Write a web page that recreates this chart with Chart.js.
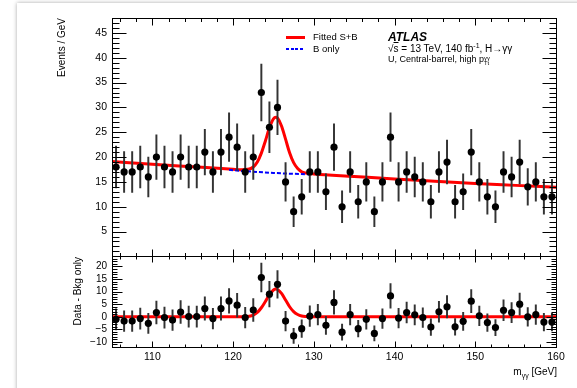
<!DOCTYPE html>
<html lang="en">
<head>
<meta charset="UTF-8" />
<title>ATLAS H→γγ, U, Central-barrel, high pTt</title>
<script src="https://cdn.jsdelivr.net/npm/chart.js"></script>
<style>
  html, body { margin: 0; padding: 0; background: #fff; }
  body { width: 577px; height: 388px; overflow: hidden; position: relative;
         font-family: 'Liberation Sans', Arial, sans-serif; color: #000; }
  .card { position: absolute; left: 17px; top: 3px; width: 640px; height: 440px;
          background: #fff; box-shadow: 0 0 4px rgba(0,0,0,0.35); }
  #wrap { position: absolute; left: 0; top: 0; width: 577px; height: 388px; }
  .t { position: absolute; white-space: nowrap; line-height: 1; }
  .rot { transform-origin: 0 0; transform: rotate(-90deg); width: 200px; text-align: right; }
  sub, sup { font-size: 70%; line-height: 0; }
  .ol { text-decoration: overline; }
  .stk { display: inline-block; vertical-align: -3px; line-height: 0.8; font-size: 65%; }
  .stk span { display: block; }
</style>
</head>
<body>
<div class="card"></div>
<div id="wrap"><canvas id="c"></canvas></div>

<!-- legend -->
<div class="t" style="left:286px;top:36px;width:19px;height:3px;background:#f00"></div>
<div class="t" style="left:313px;top:32px;font-size:9.5px">Fitted S+B</div>
<div class="t" style="left:286px;top:47.5px;width:19px;height:2px;background:repeating-linear-gradient(90deg,#00f 0 3px,transparent 3px 4.7px)"></div>
<div class="t" style="left:313px;top:43.5px;font-size:9.5px">B only</div>

<!-- ATLAS label -->
<div class="t" style="left:388px;top:30.5px;font-size:12px;font-weight:bold;font-style:italic">ATLAS</div>
<div class="t" style="left:388px;top:44.2px;font-size:10px">√<span class="ol">s</span> = 13 TeV, 140 fb<sup>-1</sup>, H→γγ</div>
<div class="t" style="left:388px;top:54.7px;font-size:9px">U, Central-barrel, high p<span class="stk"><span>γγ</span><span>Tt</span></span></div>

<!-- axis titles -->
<div class="t rot" style="left:57px;top:218px;font-size:10px">Events / GeV</div>
<div class="t rot" style="left:73px;top:457px;font-size:10px">Data - Bkg only</div>
<div class="t" style="right:20px;top:366.5px;font-size:10px">m<sub>γγ</sub> [GeV]</div>

<script>
// bin centres (1 GeV bins) and events per bin
const bins = [105.5,106.5,107.5,108.5,109.5,110.5,111.5,112.5,113.5,114.5,115.5,116.5,117.5,118.5,119.5,120.5,121.5,122.5,123.5,124.5,125.5,126.5,127.5,128.5,129.5,130.5,131.5,132.5,133.5,134.5,135.5,136.5,137.5,138.5,139.5,140.5,141.5,142.5,143.5,144.5,145.5,146.5,147.5,148.5,149.5,150.5,151.5,152.5,153.5,154.5,155.5,156.5,157.5,158.5,159.5];
const counts = [18,17,17,18,16,20,18,17,20,18,18,21,17,21,24,22,17,20,33,26,30,15,9,12,17,17,13,22,10,17,11,15,9,15,24,15,17,16,15,11,17,19,11,13,21,15,12,10,17,16,19,14,15,12,12];
const errs = [4.2,4.1,4.1,4.2,4.0,4.5,4.2,4.1,4.5,4.2,4.2,4.6,4.1,4.6,4.9,4.7,4.1,4.5,5.7,5.1,5.5,3.9,3.0,3.5,4.1,4.1,3.6,4.7,3.2,4.1,3.3,3.9,3.0,3.9,4.9,3.9,4.1,4.0,3.9,3.3,4.1,4.4,3.3,3.6,4.6,3.9,3.5,3.2,4.1,4.0,4.4,3.7,3.9,3.5,3.5];
// data minus background-only fit
const resid = [-1.0,-1.7,-1.7,-0.7,-2.6,1.7,-0.3,-1.3,1.9,0.1,0.1,3.3,-0.7,3.3,6.3,4.6,-0.3,2.7,15.6,9.0,12.9,-1.7,-7.6,-4.7,0.3,0.9,-3.4,5.7,-6.1,0.9,-4.7,-1.0,-6.6,-0.7,8.3,-0.5,1.7,0.8,-0.3,-4.1,2.0,4.0,-4.0,-1.8,6.2,0.4,-2.3,-4.3,2.6,1.7,5.0,0.0,0.9,-2.1,-2.1];

// fitted S+B curve
const sbX = [105,110,115,120,121,122,122.5,123,123.5,124,124.5,125,125.3,125.5,126,126.5,127,127.5,128,128.5,129,130,135,140,145,150,155,160];
const sbY = [19.1,18.55,18.05,17.55,17.47,17.6,18.0,19.0,20.8,23.25,25.9,27.7,28.0,27.85,26.26,23.6,20.87,18.87,17.68,17.03,16.79,16.6,16.1,15.6,15.15,14.7,14.3,13.9];
// B only curve (visible around the peak)
const bX = [119.5,121,123,125,127,129,129.5];
const bY = [17.45,17.2,17.0,16.8,16.65,16.55,16.5];
// signal part of the fit for the lower panel
const sigX = [105,121,122,122.5,123,123.5,124,124.5,125,125.3,125.5,126,126.5,127,127.5,128,128.5,129,130,160];
const sigY = [0,0.02,0.25,0.7,1.75,3.6,6.1,8.8,10.65,11.0,10.85,9.3,6.7,4.0,2.05,0.9,0.3,0.1,0,0];

const xTicks = { min: 105, max: 160, major: 10, minor: 2 };

const pts = (xs, ys) => xs.map((x, i) => ({ x, y: ys[i] }));
const bars = (ys) => bins.map((x, i) => ({ x, y: [ys[i] - errs[i], ys[i] + errs[i]] }));

// ROOT-like frame with inward ticks on all four sides
const frameTicks = {
  id: 'frameTicks',
  afterDraw(chart) {
    const { ctx, chartArea: ca, scales } = chart;
    const xs = scales.x;
    ctx.save();
    ctx.strokeStyle = '#000';
    ctx.lineWidth = 1;
    [[scales.y, 7, 3.5, 14, 7], [scales.yr, 6, 3, 10, 5]].forEach(([ys, xMaj, xMin, yMaj, yMin]) => {
      const top = Math.round(ys.top) + 0.5, bot = Math.round(ys.bottom) + 0.5;
      const l = Math.round(ca.left) + 0.5, r = Math.round(ca.right) + 0.5;
      ctx.strokeRect(l, top, r - l, bot - top);
      ctx.beginPath();
      for (let v = xTicks.min + 1; v <= xTicks.max; v += xTicks.minor) {
        const px = Math.round(xs.getPixelForValue(v)) + 0.5;
        const len = v % xTicks.major === 0 ? xMaj : xMin;
        ctx.moveTo(px, bot); ctx.lineTo(px, bot - len);
        ctx.moveTo(px, top); ctx.lineTo(px, top + len);
      }
      for (let v = Math.ceil(ys.min); v <= ys.max; v++) {
        const py = Math.round(ys.getPixelForValue(v)) + 0.5;
        const len = v % 5 === 0 ? yMaj : yMin;
        ctx.moveTo(l, py); ctx.lineTo(l + len, py);
        ctx.moveTo(r, py); ctx.lineTo(r - len, py);
      }
      ctx.stroke();
    });
    ctx.restore();
  }
};

Chart.defaults.font.family = "'Liberation Sans', Arial, sans-serif";
Chart.defaults.color = '#000';

new Chart(document.getElementById('c'), {
  type: 'bar',
  data: {
    datasets: [
      { type: 'line', data: pts(bX, bY), yAxisID: 'y', borderColor: '#0000ff', borderWidth: 2,
        borderDash: [4, 2], pointRadius: 0, order: 3 },
      { type: 'line', data: pts(sbX, sbY), yAxisID: 'y', borderColor: '#ff0000', borderWidth: 3,
        pointRadius: 0, cubicInterpolationMode: 'monotone', order: 4 },
      { type: 'bar', data: bars(counts), yAxisID: 'y', backgroundColor: '#333', barThickness: 1.3,
        grouped: false, order: 2 },
      { type: 'scatter', data: pts(bins, counts), yAxisID: 'y', backgroundColor: '#000',
        pointRadius: 3.6, borderWidth: 0, order: 1 },
      { type: 'line', data: pts(sigX, sigY), yAxisID: 'yr', borderColor: '#ff0000', borderWidth: 3,
        pointRadius: 0, cubicInterpolationMode: 'monotone', order: 4 },
      { type: 'bar', data: bars(resid), yAxisID: 'yr', backgroundColor: '#333', barThickness: 1.3,
        grouped: false, order: 2 },
      { type: 'scatter', data: pts(bins, resid), yAxisID: 'yr', backgroundColor: '#000',
        pointRadius: 3.6, borderWidth: 0, order: 1 }
    ]
  },
  options: {
    responsive: true,
    maintainAspectRatio: false,
    animation: false,
    layout: { padding: { left: 0, right: 21, top: 18, bottom: 0 } },
    plugins: { legend: { display: false }, tooltip: { enabled: false } },
    scales: {
      x: {
        type: 'linear', min: 105, max: 160, offset: false,
        grid: { display: false, drawTicks: false }, border: { display: false },
        ticks: { stepSize: 10, includeBounds: false, padding: 4, font: { size: 10.5 }, maxRotation: 0 },
        afterFit: (s) => { s.height = 41; }
      },
      // lower panel listed first: stacked left scales are laid out in reverse order
      yr: {
        type: 'linear', position: 'left', stack: 'panels', stackWeight: 90.6, min: -12, max: 24,
        grid: { display: false, drawTicks: false }, border: { display: false },
        ticks: { stepSize: 5, includeBounds: false, autoSkip: false, padding: 5, font: { size: 10 },
                 callback: (v) => v < 0 ? '\u2212' + (-v) : v },
        afterFit: (s) => { s.width = 112; }
      },
      y: {
        type: 'linear', position: 'left', stack: 'panels', stackWeight: 238.4, min: 0, max: 48,
        grid: { display: false, drawTicks: false }, border: { display: false },
        ticks: { stepSize: 5, includeBounds: false, autoSkip: false, padding: 5, font: { size: 10.5 },
                 callback: (v) => v === 0 ? '' : v },
        afterFit: (s) => { s.width = 112; }
      }
    }
  },
  plugins: [frameTicks]
});
</script>
</body>
</html>
